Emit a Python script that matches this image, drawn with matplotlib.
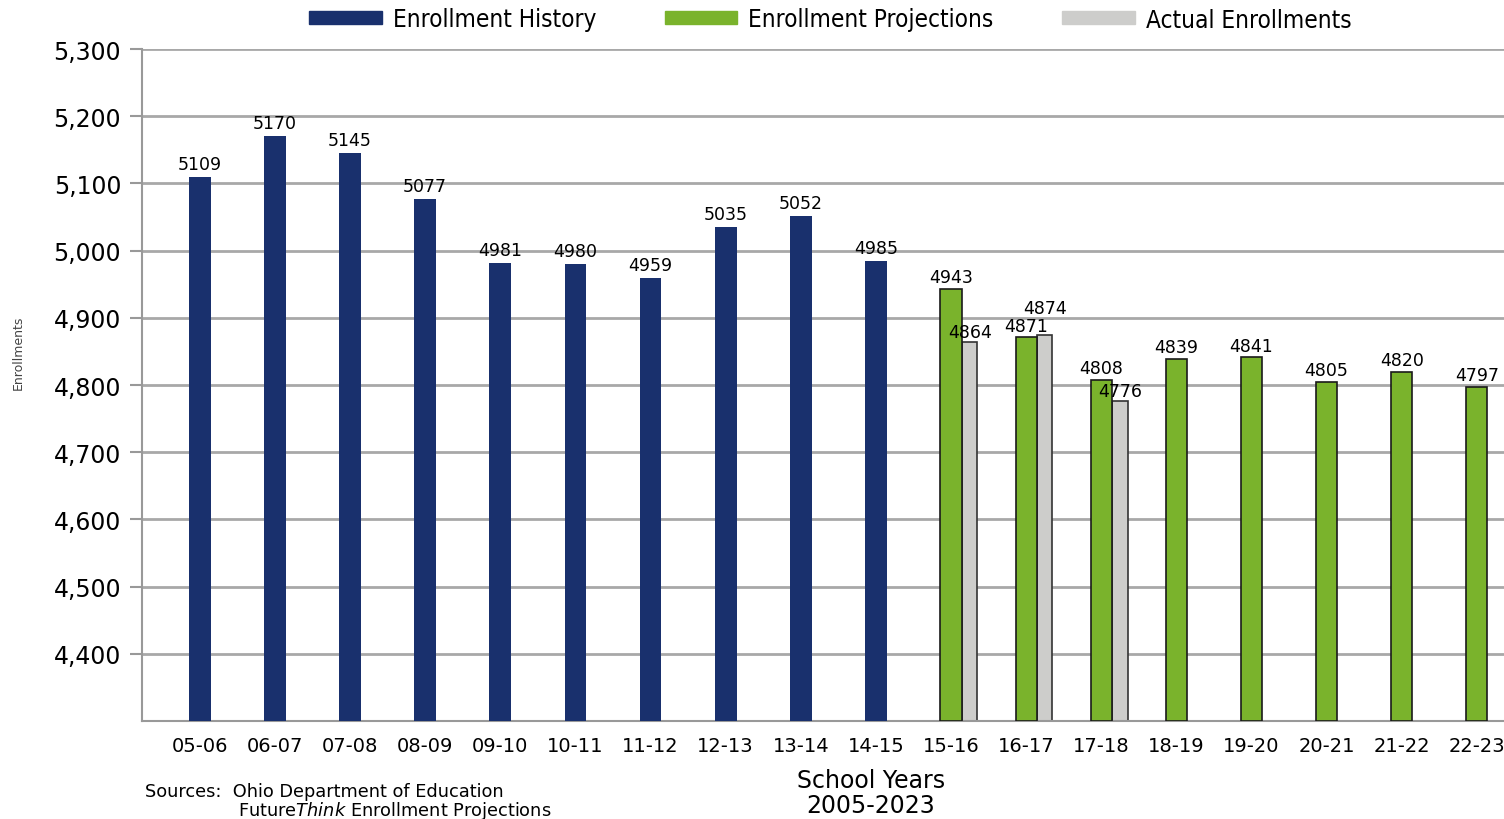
import numpy as np
import matplotlib.pyplot as plt
from matplotlib.patches import Patch


years = ['05-06', '06-07', '07-08', '08-09', '09-10', '10-11', '11-12', '12-13', '13-14',
         '14-15', '15-16', '16-17', '17-18', '18-19', '19-20', '20-21', '21-22', '22-23']
history = [5109, 5170, 5145, 5077, 4981, 4980, 4959, 5035, 5052, 4985]
projections = [4943, 4871, 4808, 4839, 4841, 4805, 4820, 4797]
actual = [4864, 4874, 4776]

navy = '#19306d'
green = '#7ab32c'
grey = '#cdcdcb'
base = 4300

fig = plt.figure(figsize=(15.04, 8.2), dpi=100)
ax = fig.add_axes([0.0944, 0.1195, 0.91, 0.8195])

x = np.arange(len(years))
xh = x[:len(history)]
xp = x[len(history):]
xa = xp[:len(actual)]

hh = np.array(history) - base
hp = np.array(projections) - base
ha = np.array(actual) - base

ax.bar(xh, hh, bottom=base, width=0.29, color=navy, zorder=3)
ax.bar(xp, hp, bottom=base, width=0.28, color=green, edgecolor='#1a1a1a', linewidth=1.2, zorder=3)
ax.bar(xa + 0.245, ha, bottom=base, width=0.21, color=grey, edgecolor='#333333', linewidth=1.2, zorder=2)

# value labels
lab = dict(ha='center', va='bottom', fontsize=12.5, zorder=5, textcoords='offset points')
for xi, v in zip(xh, history):
    ax.annotate(str(v), (xi, v), xytext=(0, 3), **lab)
for xi, v in zip(xp, projections):
    ax.annotate(str(v), (xi, v), xytext=(0, 2), **lab)
for xi, v, dy in zip(xa, actual, [1, 13, 1]):
    ax.annotate(str(v), (xi + 0.25, v), xytext=(0, dy), **lab)

ax.set_xlim(-0.77, 17.45)
ax.set_ylim(4300, 5300)
ax.set_yticks(np.arange(4400, 5301, 100))
ax.set_yticklabels([f'{t:,}' for t in range(4400, 5301, 100)], fontsize=17)
ax.set_xticks(x)
ax.set_xticklabels(years, fontsize=14)
ax.tick_params(axis='x', length=0, pad=11)
ax.tick_params(axis='y', length=9, color='#999999', width=1.5, pad=6)

ax.grid(axis='y', color='#a8a8a8', linewidth=2, zorder=0)
for s in ['top', 'right']:
    ax.spines[s].set_visible(False)
for s in ['left', 'bottom']:
    ax.spines[s].set_color('#999999')
    ax.spines[s].set_linewidth(1.5)

fig.text(0.012, 0.57, 'Enrollments', rotation=90, ha='center', va='center', fontsize=9, color='#444444')

handles = [Patch(color=navy), Patch(color=green), Patch(color=grey)]
fig.legend(handles, ['Enrollment History', 'Enrollment Projections', 'Actual Enrollments'],
           loc='center', bbox_to_anchor=(0.552, 0.975), ncol=3, frameon=False,
           handlelength=3.0, handleheight=0.45, handletextpad=0.45, columnspacing=2.8,
           prop={'family': 'DejaVu Sans', 'stretch': 'condensed', 'size': 17.5})

fig.text(0.579, 0.032, 'School Years\n2005-2023', ha='center', va='center', fontsize=17,
         linespacing=1.05)
fig.text(0.0965, 0.034, 'Sources:  Ohio Department of Education', fontsize=12.8, va='center')
fig.text(0.158, 0.011, 'Future$\\it{Think}$ Enrollment Projections', fontsize=12.8, va='center')

fig.savefig('out.png', dpi=100)
